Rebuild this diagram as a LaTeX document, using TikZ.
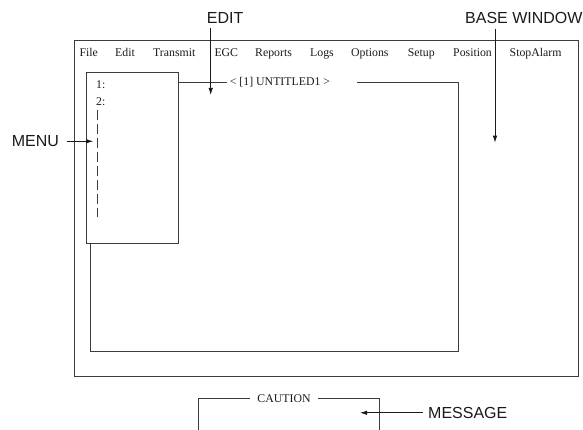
\documentclass[tikz,border=0pt]{standalone}
\usepackage{fontspec}
\setmainfont{Liberation Serif}
\setsansfont{Liberation Sans}
\usetikzlibrary{arrows.meta, positioning}
\definecolor{ScreenInk}{HTML}{3C3C3C}
\definecolor{CallInk}{HTML}{1A1A1A}

\begin{document}
\begin{tikzpicture}[
    x=1pt, y=-1pt,
    frame/.style={draw=ScreenInk, line width=0.9pt},
    screen/.style={font=\fontsize{11.8}{14}\selectfont, text=CallInk, inner sep=0pt},
    callout/.style={font=\fontsize{16}{19}\selectfont\sffamily, text=CallInk, inner sep=0pt},
    pointer/.style={draw=CallInk, line width=0.8pt, -{Latex[length=7pt,width=4.5pt]}},
  ]
  \useasboundingbox (0,0) rectangle (583,430);
  % base window with its menu bar
  \draw[frame] (74,40) rectangle (578.5,376);
  \foreach \name/\px in {File/79.3, Edit/115, Transmit/153, EGC/214.3, Reports/255,
      Logs/310, Options/351, Setup/407.7, Position/453, StopAlarm/509.5}
    \node[screen, anchor=base west] (bar-\name) at (\px,56.5) {\name};

  % edit window, partly hidden by the menu
  \coordinate (edit-ne) at (458.3,82);
  \coordinate (edit-sw) at (90,351);
  \node[screen, anchor=west, inner xsep=3pt] (title) at (226.7,82) {< [1] UNTITLED1 >};
  \node[frame, fill=white, inner sep=0pt, minimum width=92.3pt, minimum height=171.3pt,
    anchor=north west] (menu) at (86,71.7) {};
  \draw[frame] (menu.east |- title.west) -- (title.west);
  \draw[frame] ([xshift=24pt]title.east) -- (edit-ne) |- (edit-sw) -- (edit-sw |- menu.south);

  % menu lines
  \node[screen, anchor=west] (item-1) at (96,85) {1:};
  \node[screen, anchor=west] (item-2) at (96,101.5) {2:};
  \coordinate (items-top) at (97.5,110);
  \coordinate (items-end) at (97.5,217);
  \draw[frame, line width=0.7pt, dash pattern=on 10pt off 4pt] (items-top) -- (items-end);

  % caution message box
  \node[screen, inner xsep=7.5pt] (caution) at (284,398.5) {CAUTION};
  \coordinate (caution-sw) at (198.3,430);
  \coordinate (caution-se) at (379,430);
  \draw[frame] (caution.west) -| (caution-sw);
  \draw[frame] (caution.east) -| (caution-se);

  % callouts
  \node[callout, anchor=base west] (edit-label) at (206.7,23.3) {EDIT};
  \coordinate (edit-tip) at ([shift={(4,71.5)}]edit-label.south west);
  \draw[pointer] ([shift={(4,5)}]edit-label.south west) -- (edit-tip);

  \node[callout, anchor=base west] (base-label) at (465,23.3) {BASE WINDOW};
  \coordinate (base-tip) at ([shift={(30,119)}]base-label.south west);
  \draw[pointer] ([shift={(30,5)}]base-label.south west) -- (base-tip);

  \node[callout, anchor=base west] (menu-label) at (11.7,146.7) {MENU};
  \coordinate (menu-tip) at ([xshift=34pt]menu-label.east);
  \draw[pointer] ([xshift=8pt]menu-label.east) -- (menu-tip);

  \node[callout, anchor=base west] (msg-label) at (428,418.3) {MESSAGE};
  \coordinate (msg-tip) at ([xshift=-68pt]msg-label.west);
  \draw[pointer] ([xshift=-5pt]msg-label.west) -- (msg-tip);
\end{tikzpicture}
\end{document}
